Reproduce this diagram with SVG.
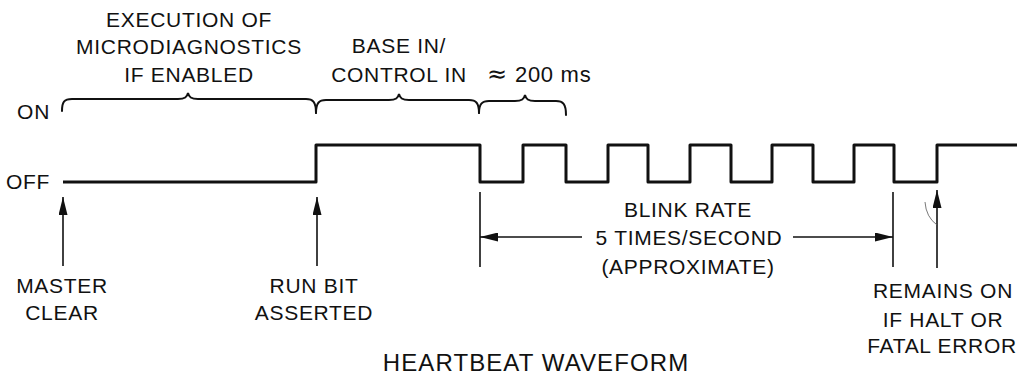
<svg xmlns="http://www.w3.org/2000/svg" width="1019" height="377" viewBox="0 0 1019 377">
<style>
text{font-family:"Liberation Sans",Arial,sans-serif;font-size:21px;fill:#111;letter-spacing:0.7px}
.c{text-anchor:middle}
.e{text-anchor:end}
.t{font-size:24px;letter-spacing:1.1px}
.approx{font-family:"DejaVu Sans",sans-serif;font-size:24px}
.wave{fill:none;stroke:#111;stroke-width:3;stroke-linejoin:round}
.brace{fill:none;stroke:#111;stroke-width:2;stroke-linecap:round}
.ln{fill:none;stroke:#111;stroke-width:1.6}
.thin{fill:none;stroke:#555;stroke-width:0.8}
</style>
<defs>
<marker id="ah" viewBox="0 0 18 10" refX="18" refY="5" markerWidth="18" markerHeight="9" markerUnits="userSpaceOnUse" orient="auto" preserveAspectRatio="none">
<path d="M0,0 L18,5 L0,10 Z" fill="#111"/>
</marker>
</defs>
<rect width="1019" height="377" fill="#fff"/>
<g id="waveform">
<path class="wave" d="M63 182 H316 V145 H480 V182 H523 V145 H566 V182 H608 V145 H648 V182 H690 V145 H731 V182 H772 V145 H813 V182 H854 V145 H894 V182 H937 V145 H1017"/>
</g>
<g id="level-labels">
<text class="e" x="50" y="119">ON</text>
<text class="e" x="50" y="189">OFF</text>
</g>
<g id="brace-microdiag">
<path class="brace" d="M62 111 C62 102 64 99 72 99 L178 99 C185 99 187 97 188 93 C189 97 191 99 198 99 L306 99 C313 99 316 102 316 113"/>
<text class="c" x="189" y="27">EXECUTION OF</text>
<text class="c" x="189" y="54">MICRODIAGNOSTICS</text>
<text class="c" x="189" y="82">IF ENABLED</text>
</g>
<g id="brace-basein">
<path class="brace" d="M316 113 C316 103 319 100 326 100 L389 100 C396 100 398 98 399 94 C400 98 402 100 409 100 L469 100 C476 100 479 103 479 113"/>
<text class="c" x="399" y="53">BASE IN/</text>
<text class="c" x="399" y="82">CONTROL IN</text>
</g>
<g id="brace-200ms">
<path class="brace" d="M479 113 C479 104 482 101 489 101 L515 101 C522 101 524 99 525 95 C526 99 528 101 535 101 L556 101 C563 101 566 104 566 115"/>
<text x="487" y="82"><tspan class="approx">≈</tspan><tspan x="515" font-size="22">200 ms</tspan></text>
</g>
<g id="master-clear">
<text class="c" x="62" y="293">MASTER</text>
<text class="c" x="62" y="320">CLEAR</text>
</g>
<g id="run-bit">
<text class="c" x="314" y="293">RUN BIT</text>
<text class="c" x="314" y="320">ASSERTED</text>
</g>
<g id="blink-rate">
<text class="c" x="688" y="217">BLINK RATE</text>
<text class="c" x="689" y="245">5 TIMES/SECOND</text>
<text class="c" x="688" y="274">(APPROXIMATE)</text>
</g>
<g id="remains-on">
<text class="c" x="943" y="298">REMAINS ON</text>
<text class="c" x="943" y="327">IF HALT OR</text>
<text class="c" x="942" y="353">FATAL ERROR</text>
</g>
<g id="connectors">
<line class="ln" x1="63" y1="266" x2="63" y2="197" marker-end="url(#ah)"/>
<line class="ln" x1="317" y1="266" x2="317" y2="197" marker-end="url(#ah)"/>
<line class="ln" x1="937" y1="268" x2="937" y2="190" marker-end="url(#ah)"/>
<line class="ln" x1="480" y1="192" x2="480" y2="267"/>
<line class="ln" x1="893" y1="192" x2="893" y2="267"/>
<line class="ln" x1="582" y1="237" x2="480" y2="237" marker-end="url(#ah)"/>
<line class="ln" x1="793" y1="237" x2="893" y2="237" marker-end="url(#ah)"/>
<path class="thin" d="M925 202 Q926 217 937 225"/>
</g>
<g id="title">
<text class="c t" x="536" y="371">HEARTBEAT WAVEFORM</text>
</g>
</svg>
